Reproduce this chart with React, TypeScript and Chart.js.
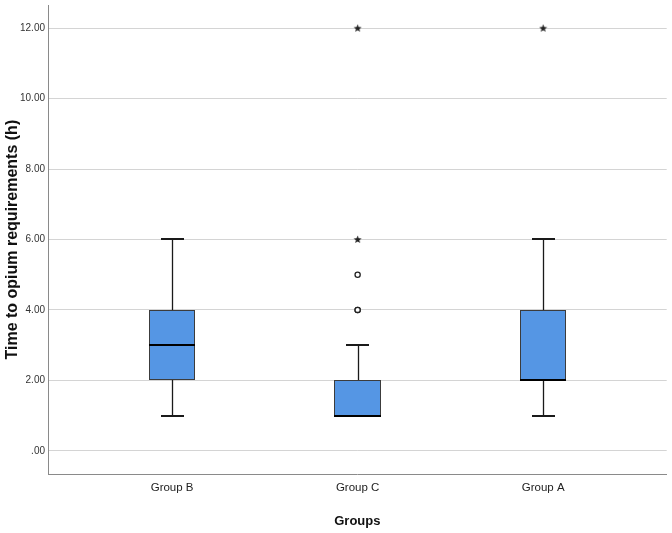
import { useEffect, useRef } from "react";
import { Chart, registerables } from "chart.js";

Chart.register(...registerables);

const categories = ["Group B", "Group C", "Group A"];
const whiskerLow = [1, 1, 1];
const q1 = [2, 1, 2];
const median = [3, 1, 2];
const q3 = [4, 2, 4];
const whiskerHigh = [6, 3, 6];
const outlierGroup = [1, 1, 1];
const outlierValues = [4, 4, 5];
const extremeGroup = [1, 1, 2];
const extremeValues = [6, 12, 12];
const yTicks = [0, 2, 4, 6, 8, 10, 12];

const NARROW = "'Liberation Sans Narrow', 'Arial Narrow', 'Liberation Sans', Arial, sans-serif";
const SANS = "'Liberation Sans', Arial, sans-serif";

const BOX_HALF = 0.125;
const CAP_HALF = 0.0625;

const boxPlugin = {
  id: "boxPlot",
  beforeDatasetsDraw(chart: any) {
    const { ctx } = chart;
    const xs = chart.scales.x;
    const ys = chart.scales.y;
    ctx.save();
    for (let i = 0; i < categories.length; i++) {
      const cx = Math.round(xs.getPixelForValue(i)) + 0.5;
      const l = Math.round(xs.getPixelForValue(i - BOX_HALF));
      const r = Math.round(xs.getPixelForValue(i + BOX_HALF));
      const cl = Math.round(xs.getPixelForValue(i - CAP_HALF));
      const cr = Math.round(xs.getPixelForValue(i + CAP_HALF));
      const yLow = Math.round(ys.getPixelForValue(whiskerLow[i]));
      const yQ1 = Math.round(ys.getPixelForValue(q1[i]));
      const yMed = Math.round(ys.getPixelForValue(median[i]));
      const yQ3 = Math.round(ys.getPixelForValue(q3[i]));
      const yHigh = Math.round(ys.getPixelForValue(whiskerHigh[i]));

      ctx.strokeStyle = "#1a1a1a";
      ctx.lineWidth = 1.3;
      ctx.beginPath();
      if (yHigh < yQ3) {
        ctx.moveTo(cx, yQ3);
        ctx.lineTo(cx, yHigh);
      }
      if (yLow > yQ1) {
        ctx.moveTo(cx, yQ1);
        ctx.lineTo(cx, yLow);
      }
      ctx.stroke();

      ctx.lineWidth = 2;
      ctx.beginPath();
      if (yHigh < yQ3) {
        ctx.moveTo(cl, yHigh);
        ctx.lineTo(cr, yHigh);
      }
      if (yLow > yQ1) {
        ctx.moveTo(cl, yLow);
        ctx.lineTo(cr, yLow);
      }
      ctx.stroke();

      ctx.fillStyle = "#5596e4";
      ctx.fillRect(l, yQ3, r - l, yQ1 - yQ3);
      ctx.strokeStyle = "#3c3c3c";
      ctx.lineWidth = 1;
      ctx.strokeRect(l + 0.5, yQ3 + 0.5, r - l - 1, yQ1 - yQ3 - 1);

      ctx.strokeStyle = "#000";
      ctx.lineWidth = 2;
      ctx.beginPath();
      ctx.moveTo(l, yMed);
      ctx.lineTo(r, yMed);
      ctx.stroke();
    }
    ctx.restore();
  },
};

function makeStar(): HTMLCanvasElement {
  const c = document.createElement("canvas");
  c.width = 9;
  c.height = 9;
  const g = c.getContext("2d")!;
  g.fillStyle = "#222";
  g.beginPath();
  for (let k = 0; k < 10; k++) {
    const rad = k % 2 === 0 ? 4.2 : 1.8;
    const a = -Math.PI / 2 + (k * Math.PI) / 5;
    const px = 4.5 + rad * Math.cos(a);
    const py = 4.7 + rad * Math.sin(a);
    if (k === 0) g.moveTo(px, py);
    else g.lineTo(px, py);
  }
  g.closePath();
  g.fill();
  return c;
}

export default function App() {
  const ref = useRef<HTMLCanvasElement | null>(null);

  useEffect(() => {
    if (!ref.current) return;
    const star = makeStar();
    const chart = new Chart(ref.current, {
      type: "scatter",
      data: {
        datasets: [
          {
            label: "Outliers",
            data: outlierValues.map((v, i) => ({ x: outlierGroup[i], y: v })),
            pointStyle: "circle",
            radius: 2.6,
            backgroundColor: "#ffffff",
            borderColor: "#222",
            borderWidth: 1.3,
          },
          {
            label: "Extremes",
            data: extremeValues.map((v, i) => ({ x: extremeGroup[i], y: v })),
            pointStyle: star as any,
            radius: 4,
          },
        ],
      },
      options: {
        animation: false,
        responsive: false,
        maintainAspectRatio: false,
        layout: { padding: { top: 3, right: 2, left: 0, bottom: 0 } },
        plugins: {
          legend: { display: false },
          tooltip: { enabled: false },
        },
        scales: {
          x: {
            type: "linear",
            position: "bottom",
            min: -0.669,
            max: 2.666,
            grid: { color: "rgba(0,0,0,0)", drawTicks: false },
            border: { display: true, color: "#8a8a8a", width: 1 },
            afterBuildTicks: (s: any) => {
              s.ticks = categories.map((_, i) => ({ value: i }));
            },
            ticks: {
              callback: (v: any) => categories[v] ?? "",
              font: { family: NARROW, size: 11.5 },
              color: "#222",
              padding: 7,
              maxRotation: 0,
              autoSkip: false,
            },
            title: {
              display: true,
              text: "Groups",
              font: { family: SANS, size: 13, weight: "bold" },
              color: "#111",
              padding: { top: 0, bottom: 4 },
            },
            afterFit: (s: any) => {
              s.height = 59;
              s.paddingLeft = 0;
              s.paddingRight = 0;
            },
          },
          y: {
            type: "linear",
            min: -0.66,
            max: 12.65,
            afterBuildTicks: (s: any) => {
              s.ticks = yTicks.map((v) => ({ value: v }));
            },
            ticks: {
              callback: (v: any) => (Number(v) === 0 ? ".00" : Number(v).toFixed(2)),
              font: { family: NARROW, size: 10 },
              color: "#333",
              padding: 3,
            },
            grid: { color: "#d4d4d4", lineWidth: 1, drawTicks: false },
            border: { display: true, color: "#8a8a8a", width: 1 },
            title: {
              display: true,
              text: "Time to opium requirements (h)",
              font: { family: SANS, size: 16, weight: "bold" },
              color: "#111",
              padding: { top: 3, bottom: 0 },
            },
            afterFit: (s: any) => {
              s.width = 48;
              s.paddingTop = 0;
              s.paddingBottom = 0;
            },
          },
        },
      },
      plugins: [boxPlugin],
    });
    return () => chart.destroy();
  }, []);

  return (
    <div style={{ position: "absolute", left: 0, top: 0, width: 672, height: 533, background: "#fff" }}>
      <canvas ref={ref} width={672} height={533} style={{ display: "block", width: 672, height: 533 }} />
    </div>
  );
}
